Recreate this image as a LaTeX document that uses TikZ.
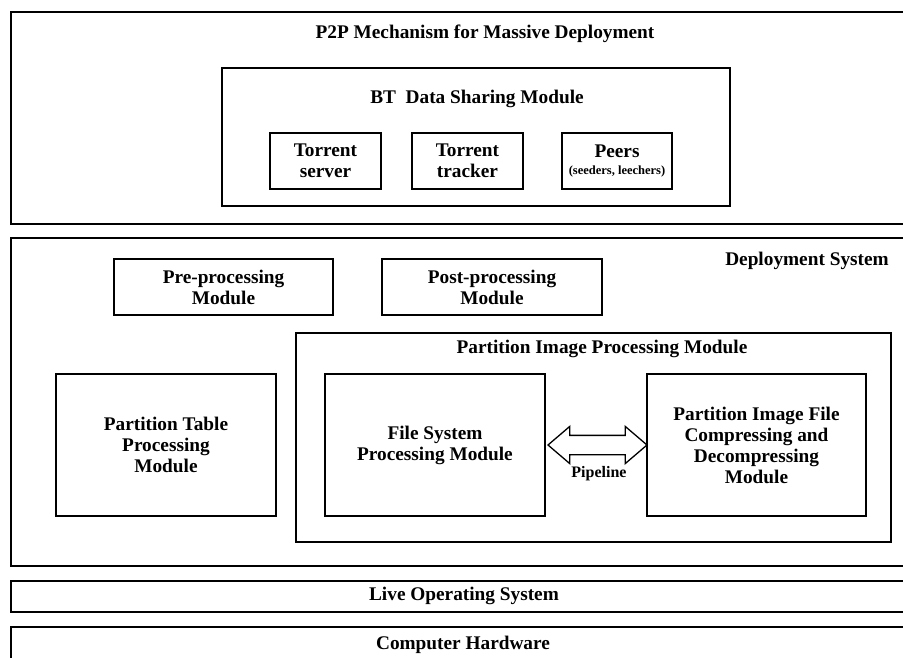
\documentclass[tikz,border=0pt]{standalone}
\usepackage{fontspec}
\setmainfont{Liberation Serif}
\usetikzlibrary{shapes.arrows}

\begin{document}
\begin{tikzpicture}[
			x=1pt, y=-1pt,
			every node/.style={font=\bfseries\fontsize{19.3}{21}\selectfont, align=center, inner sep=0pt},
			layer/.style={draw, line width=2.8pt},
			module/.style={draw, rectangle, line width=1.3pt},
			pipe/.style={draw, double arrow, line width=1.3pt, inner xsep=0pt, inner ysep=9pt,
				double arrow head extend=9pt, double arrow tip angle=81, minimum height=99pt}
			]
			\useasboundingbox (0,0) rectangle (903,658);
			\draw[layer] (903,12) -| (11,224) -- (903,224);
			\draw[layer] (903,238) -| (11,566) -- (903,566);
			\draw[layer] (903,581) -| (11,612) -- (903,612);
			\draw[layer] (903,627) -- (11,627) -- (11,662);

			\node (p2p) at (485,34) {P2P Mechanism for Massive Deployment};
			\node[module, minimum width=508pt, minimum height=138pt] (bt) at (476,137) {};
			\node (bttitle) at (477,99) {BT~ Data Sharing Module};
			\node[module, minimum width=111pt, minimum height=56pt] (server) at (325.5,161) {Torrent\\server};
			\node[module, minimum width=111pt, minimum height=56pt] (tracker) at (467.5,161) {Torrent\\tracker};
			\node[module, minimum width=110pt, minimum height=56pt] (peers) at (617,161)
				{Peers\\[-4pt]{\fontsize{12.5}{14}\selectfont (seeders, leechers)}};

			\node (deploy) at (807,261) {Deployment System};
			\node[module, minimum width=219pt, minimum height=56pt] (pre) at (223.5,287) {Pre-processing\\Module};
			\node[module, minimum width=220pt, minimum height=56pt] (post) at (492,287) {Post-processing\\Module};
			\node[module, minimum width=595pt, minimum height=209pt] (pimg) at (593.5,437.5) {};
			\node (pimgtitle) at (602,349) {Partition Image Processing Module};
			\node[module, minimum width=220pt, minimum height=142pt] (ptable) at (166,445) {Partition Table\\Processing\\Module};
			\node[module, minimum width=220pt, minimum height=142pt] (fs) at (435,445) {File System\\Processing Module};
			\node[module, minimum width=219pt, minimum height=142pt] (pif) at (756.5,445)
				{Partition Image File\\Compressing and\\Decompressing\\Module};
			\node[pipe] (pipe) at (597.5,445) {};
			\node[font=\bfseries\fontsize{16}{18}\selectfont] (pipeline) at (599,474) {Pipeline};

			\node (liveos) at (464,596) {Live Operating System};
			\node (hardware) at (463,645) {Computer Hardware};
		\end{tikzpicture}
\end{document}
